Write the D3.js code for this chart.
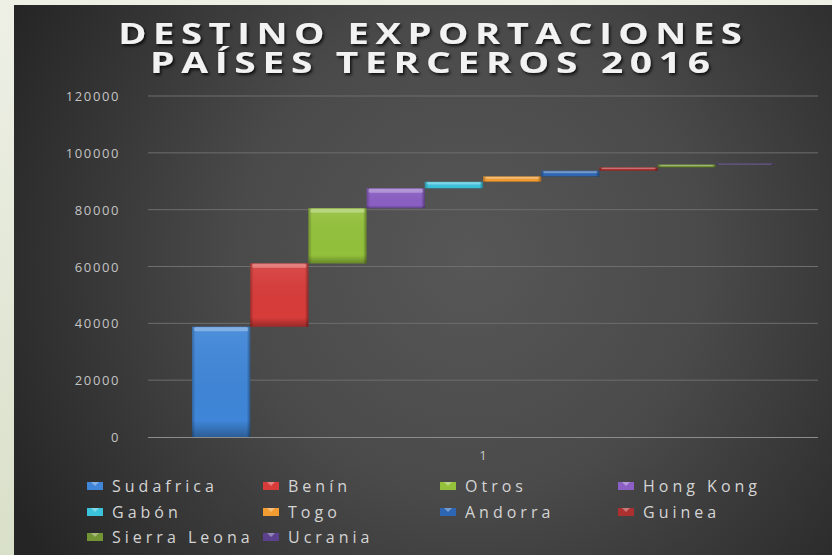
<!DOCTYPE html>
<html><head><meta charset="utf-8">
<script src="https://cdn.jsdelivr.net/npm/d3@7"></script>
<style>
html,body{margin:0;padding:0;background:#eceee2;}
svg{display:block;}
</style></head>
<body>
<svg id="chart" width="832" height="555"></svg>
<script>
// ---- data ----
const title = ["DESTINO EXPORTACIONES", "PAÍSES TERCEROS 2016"];
const categories = ["1"];
const seriesNames = ["Sudafrica","Benín","Otros","Hong Kong","Gabón","Togo","Andorra","Guinea","Sierra Leona","Ucrania"];
const seriesValues = [38800, 22300, 19400, 7000, 2300, 1900, 2000, 1200, 1000, 350];
const seriesColors = ["#3f86d8","#d83c3a","#93c13b","#8b5fc4","#3cc3dc","#f29c32","#2f66b3","#ab302f","#729434","#5b418e"];
const yTicks = [0,20000,40000,60000,80000,100000,120000];

const svg = d3.select("#chart");
const W = 832, H = 555;
const defs = svg.append("defs");

// background
const side = defs.append("linearGradient").attr("id","side").attr("x1",0).attr("x2",0).attr("y1",0).attr("y2",1);
side.append("stop").attr("offset","0%").attr("stop-color","#eef0e6");
side.append("stop").attr("offset","100%").attr("stop-color","#d9e0c9");
svg.append("rect").attr("x",0).attr("y",0).attr("width",W).attr("height",H).attr("fill","url(#side)");
const bg = defs.append("radialGradient").attr("id","bg").attr("gradientUnits","userSpaceOnUse")
  .attr("cx",470).attr("cy",260).attr("r",520);
bg.append("stop").attr("offset","0%").attr("stop-color","#575757");
bg.append("stop").attr("offset","45%").attr("stop-color","#4a4a4a");
bg.append("stop").attr("offset","100%").attr("stop-color","#252525");
svg.append("rect").attr("x",14).attr("y",5).attr("width",W-14).attr("height",H-5).attr("fill","url(#bg)");

// title (horizontally stretched like the reference)
const shadow = defs.append("filter").attr("id","tsh").attr("x","-10%").attr("y","-30%").attr("width","120%").attr("height","160%");
shadow.append("feDropShadow").attr("dx",1.5).attr("dy",2).attr("stdDeviation",1.5).attr("flood-color","#000").attr("flood-opacity",0.8);
const titleLen = [624, 560];
const titleBase = [44, 73];
const LS = 5;
const tg = svg.append("g").attr("filter","url(#tsh)");
tg.selectAll("text").data(title).join("text")
  .attr("x",0).attr("y",0)
  .attr("text-anchor","middle")
  .attr("font-family","'Open Sans', sans-serif").attr("font-weight",700)
  .attr("font-size",29).attr("letter-spacing",LS)
  .attr("fill","#f2f2f2")
  .text(d=>d)
  .each(function(d,i){
    const w = this.getComputedTextLength() - LS;
    const sx = titleLen[i]/w;
    d3.select(this).attr("x",LS/2).attr("transform",`translate(430,${titleBase[i]}) scale(${sx},1)`);
  });

// scales
const x0 = d3.scaleBand().domain(categories).range([148,818]).paddingInner(0).paddingOuter(0.0756);
const x1 = d3.scaleBand().domain(seriesNames).range([0,x0.bandwidth()]).padding(0);
const y = d3.scaleLinear().domain([0,120000]).range([437,96]);

// gridlines
svg.append("g").selectAll("line").data(yTicks.filter(d=>d>0)).join("line")
  .attr("x1",148).attr("x2",818).attr("y1",d=>y(d)).attr("y2",d=>y(d))
  .attr("stroke","#6e6e6e").attr("stroke-width",1);

// y axis labels
const yAxis = d3.axisLeft(y).tickValues(yTicks).tickSize(0).tickPadding(0).tickFormat(d3.format("d"));
const ya = svg.append("g").attr("transform","translate(120,0)").call(yAxis);
ya.select(".domain").remove();
ya.selectAll("text").attr("font-family","'Open Sans', sans-serif").attr("font-size",13)
  .attr("letter-spacing",1.6).attr("fill","#c4c4c4").attr("dy","0.35em");

// bars (waterfall: each series starts where previous ends)
const ends = d3.cumsum(seriesValues);
const bars = seriesNames.map((n,i)=>({name:n, v0: ends[i]-seriesValues[i], v1: ends[i], color: seriesColors[i]}));

// gradients
const edge = defs.append("linearGradient").attr("id","edge").attr("x1","0").attr("x2","1").attr("y1","0").attr("y2","0");
edge.append("stop").attr("offset","0%").attr("stop-color","#000").attr("stop-opacity",0.25);
edge.append("stop").attr("offset","6%").attr("stop-color","#000").attr("stop-opacity",0);
edge.append("stop").attr("offset","94%").attr("stop-color","#000").attr("stop-opacity",0);
edge.append("stop").attr("offset","100%").attr("stop-color","#000").attr("stop-opacity",0.35);
const vert = defs.append("linearGradient").attr("id","vert").attr("x1","0").attr("x2","0").attr("y1","0").attr("y2","1");
vert.append("stop").attr("offset","0%").attr("stop-color","#fff").attr("stop-opacity",0.08);
vert.append("stop").attr("offset","85%").attr("stop-color","#000").attr("stop-opacity",0);
vert.append("stop").attr("offset","100%").attr("stop-color","#000").attr("stop-opacity",0.3);

const bg2 = svg.append("g").attr("transform",`translate(${x0("1")},0)`);
const bar = bg2.selectAll("g.bar").data(bars).join("g").attr("class","bar");
bar.append("rect")
  .attr("x",d=>x1(d.name)).attr("width",x1.bandwidth())
  .attr("y",d=>y(d.v1)).attr("height",d=>Math.max(1,y(d.v0)-y(d.v1)))
  .attr("fill",d=>d.color);
bar.append("rect")
  .attr("x",d=>x1(d.name)).attr("width",x1.bandwidth())
  .attr("y",d=>y(d.v1)).attr("height",d=>Math.max(1,y(d.v0)-y(d.v1)))
  .attr("fill","url(#vert)");
bar.append("rect")
  .attr("x",d=>x1(d.name)).attr("width",x1.bandwidth())
  .attr("y",d=>y(d.v1)).attr("height",d=>Math.max(1,y(d.v0)-y(d.v1)))
  .attr("fill","url(#edge)");
// top highlight
bar.append("rect")
  .attr("x",d=>x1(d.name)+2).attr("width",x1.bandwidth()-4)
  .attr("y",d=>y(d.v1)+0.5).attr("height",d=>Math.max(0.5,Math.min(4,(y(d.v0)-y(d.v1))*0.35)))
  .attr("rx",1.5)
  .attr("fill","#fff").attr("fill-opacity",0.3);

// x axis line
svg.append("line").attr("x1",148).attr("x2",818).attr("y1",y(0)+0.5).attr("y2",y(0)+0.5)
  .attr("stroke","#8c8c8c").attr("stroke-width",1.2);
const xAxis = d3.axisBottom(x0).tickSize(0).tickPadding(0);
const xa = svg.append("g").attr("transform",`translate(0,${y(0)})`).call(xAxis);
xa.select(".domain").remove();
xa.selectAll("text").attr("font-family","'Open Sans', sans-serif").attr("font-size",13)
  .attr("fill","#c4c4c4").attr("y",18).attr("dy","0.35em");

// legend
const colX = [87, 263, 440, 618];
const rowY = [486, 512, 537];
const lg = svg.append("g").selectAll("g").data(bars).join("g")
  .attr("transform",(d,i)=>`translate(${colX[i%4]},${rowY[Math.floor(i/4)]})`);
lg.append("rect").attr("x",0).attr("y",-4).attr("width",16).attr("height",8).attr("fill",d=>d.color);
lg.append("path").attr("d","M4,-4 L12,-4 L8,0 Z").attr("fill","#fff").attr("fill-opacity",0.35);
lg.append("text").attr("x",25).attr("y",0).attr("dy","0.36em")
  .attr("font-family","'Open Sans', sans-serif").attr("font-size",16).attr("letter-spacing",4)
  .attr("fill","#d4d4d4").text(d=>d.name);
</script>
</body></html>
